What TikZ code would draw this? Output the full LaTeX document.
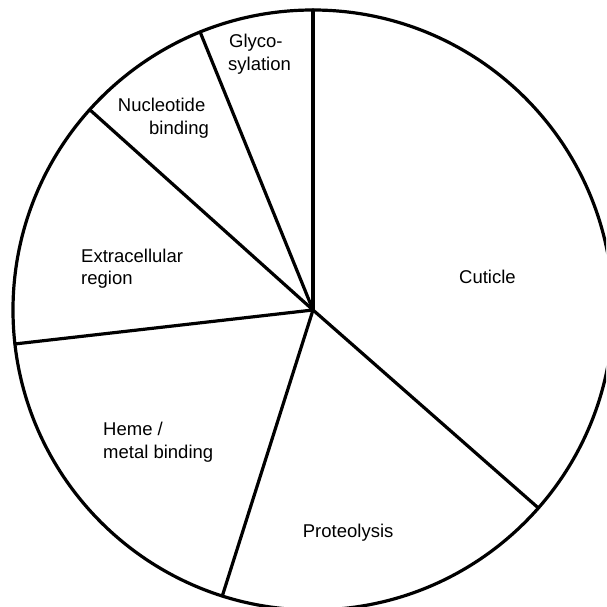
\documentclass[tikz,border=0pt]{standalone}
\usepackage{fontspec}
\setmainfont{Liberation Sans}
\usetikzlibrary{calc}
\begin{document}
\begin{tikzpicture}[x=1pt,y=1pt,
  wedge/.style={line width=3.2pt,line cap=round},
  lbl/.style={inner sep=0pt,anchor=base west,font=\fontsize{18.5}{22}\selectfont}]
\useasboundingbox (0,0) rectangle (606,-607);
\clip (0,0) rectangle (606,-607);
\coordinate (c) at (313,-310);
\def\R{300}
\coordinate (p1) at ($(c)+(90:\R)$);
\coordinate (p2) at ($(c)+(112.1:\R)$);
\coordinate (p3) at ($(c)+(138.1:\R)$);
\coordinate (p4) at ($(c)+(186.5:\R)$);
\coordinate (p5) at ($(c)+(252.4:\R)$);
\coordinate (p6) at ($(c)+(318.7:\R)$);
\draw[wedge] (c) circle[radius=\R];
\foreach \p in {p1,p2,p3,p4,p5,p6} \draw[wedge] (c) -- (\p);
\node[lbl] (gly1) at (229,-48) {Glyco-};
\node[lbl] (gly2) at (228,-71) {sylation};
\node[lbl] (nuc1) at (117.7,-111.7) {Nucleotide};
\node[lbl] (nuc2) at (149,-134) {binding};
\node[lbl] (ext1) at (81,-262.3) {Extracellular};
\node[lbl] (ext2) at (81,-284) {region};
\node[lbl] (hem1) at (103,-435) {Heme /};
\node[lbl] (hem2) at (103,-458) {metal binding};
\node[lbl] (cut) at (459,-283.3) {Cuticle};
\node[lbl] (pro) at (302.7,-537.7) {Proteolysis};
\end{tikzpicture}
\end{document}
